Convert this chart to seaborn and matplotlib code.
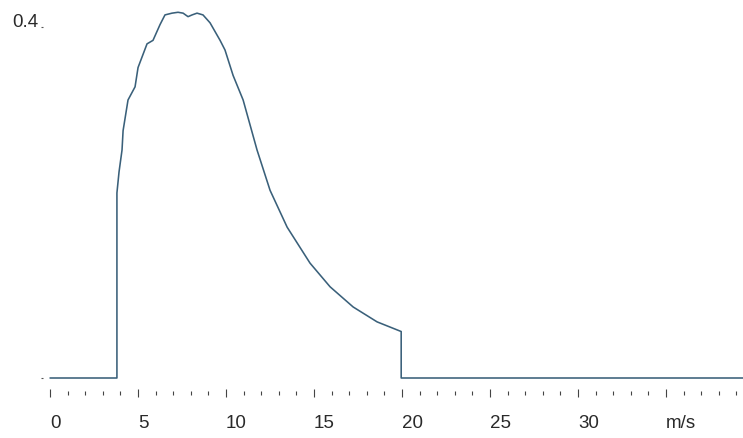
import matplotlib
matplotlib.use("Agg")
import numpy as np
import seaborn as sns
import matplotlib.pyplot as plt
from matplotlib.ticker import MultipleLocator

# wind speed (m/s) and curve values
speed = [0, 3.8, 3.8, 3.92, 4.09, 4.15, 4.43, 4.83, 5.0, 5.51, 5.85, 6.25, 6.53,
         6.93, 7.27, 7.56, 7.84, 8.07, 8.35, 8.69, 9.09, 9.66, 9.94, 10.4, 10.97,
         11.76, 12.5, 13.47, 14.77, 15.91, 17.22, 18.58, 19.95, 19.95, 40]
value = [0, 0, 0.211, 0.235, 0.260, 0.282, 0.317, 0.332, 0.354, 0.381, 0.385, 0.403, 0.414,
         0.416, 0.417, 0.416, 0.412, 0.414, 0.416, 0.414, 0.405, 0.385, 0.374, 0.345, 0.317,
         0.260, 0.214, 0.172, 0.131, 0.104, 0.081, 0.064, 0.053, 0, 0]

x_ticks = [0, 5, 10, 15, 20, 25, 30, 35]
x_labels = ["0", "5", "10", "15", "20", "25", "30", "m/s"]
y_ticks = [0, 0.4]
y_labels = ["", "0.4"]

sns.set_style("white")
plt.rcParams["font.family"] = ["Liberation Sans", "DejaVu Sans"]

fig = plt.figure(figsize=(7.43, 4.38), dpi=100)
ax = fig.add_axes([43 / 743, 45 / 438, 700 / 743, 393 / 438])

sns.lineplot(x=speed, y=value, sort=False, estimator=None, color="#3a607a",
             linewidth=1.15, ax=ax)

ax.set_xlim(-0.4, 39.37)
ax.set_ylim(-0.0171, 0.431)

for s in ax.spines.values():
    s.set_visible(False)

ax.set_xticks(x_ticks)
ax.set_xticklabels(x_labels)
ax.xaxis.set_minor_locator(MultipleLocator(1))
ax.set_yticks(y_ticks)
ax.set_yticklabels(y_labels)

ax.tick_params(axis="x", which="major", direction="inout", length=5.8, width=0.8,
               color="#444444", pad=13, labelsize=13.5, labelcolor="#2a2a2a", bottom=True)
ax.tick_params(axis="x", which="minor", direction="inout", length=2.9, width=0.8,
               color="#444444", bottom=True)
ax.tick_params(axis="y", direction="out", length=1.2, width=0.8, color="#555555",
               pad=2, labelsize=13.5, labelcolor="#2a2a2a", left=True)

for lbl in ax.get_xticklabels():
    lbl.set_horizontalalignment("left")
for lbl in ax.get_yticklabels():
    lbl.set_verticalalignment("baseline")

ax.set_xlabel("")
ax.set_ylabel("")

fig.savefig("out.png", dpi=100)
